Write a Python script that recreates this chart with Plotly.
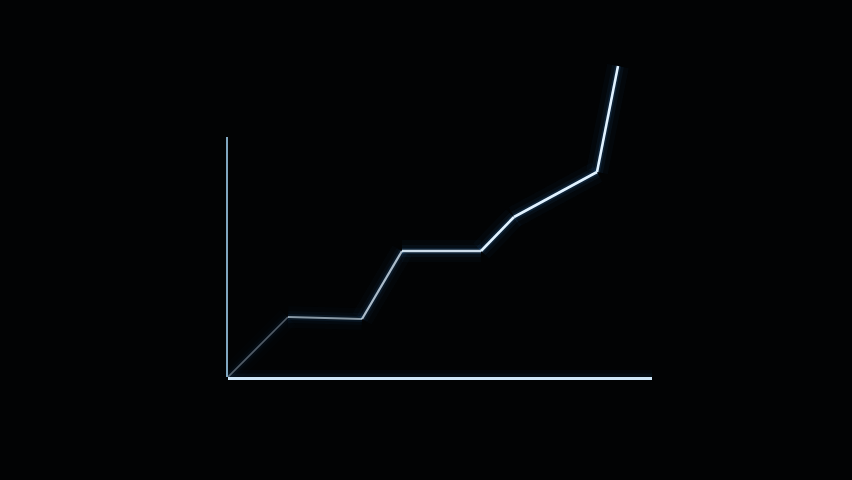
import plotly.graph_objects as go

# growth line (x and y in plot units)
x_vals = [0, 60, 134, 174, 253, 286, 369, 390]
y_vals = [0, 60, 58, 126, 126, 160, 205, 311]

# brightness of each segment, dim near the origin, bright at the end
seg_alpha = [0.35, 0.6, 0.75, 0.9, 1.0, 1.0, 1.0]

fig = go.Figure()

# invisible point so the short left axis (y2) gets drawn
fig.add_trace(go.Scatter(x=x_vals[:1], y=y_vals[:1], mode="markers", yaxis="y2",
                         marker=dict(opacity=0), hoverinfo="skip",
                         showlegend=False))

for i in range(len(x_vals) - 1):
    xs = x_vals[i:i + 2]
    ys = y_vals[i:i + 2]
    a = seg_alpha[i]
    # soft blue glow
    for w, op in [(22, 0.035), (12, 0.06), (6, 0.14)]:
        fig.add_trace(go.Scatter(
            x=xs, y=ys, mode="lines",
            line=dict(color="rgba(60,150,230,%.3f)" % (op * a), width=w),
            hoverinfo="skip", showlegend=False,
        ))
    fig.add_trace(go.Scatter(
        x=xs, y=ys, mode="lines",
        line=dict(color="rgba(225,242,255,%.3f)" % a, width=1.2 + 1.4 * a),
        hoverinfo="skip", showlegend=False,
    ))

# faint glow just above the bottom axis
axis_glow = [
    dict(type="line", xref="x domain", yref="y", x0=0, x1=1, y0=0, y1=0,
         line=dict(color="rgba(60,150,230,%.3f)" % op, width=w), layer="below")
    for w, op in [(14, 0.03), (7, 0.05)]
]

fig.update_layout(
    width=852, height=480,
    margin=dict(l=228, r=200, t=40, b=103),
    paper_bgcolor="#020304",
    plot_bgcolor="rgba(0,0,0,0)",
    shapes=axis_glow,
    xaxis=dict(range=[0, 424], showgrid=False, zeroline=False, showticklabels=False,
               ticks="", showline=True, linecolor="#cfe8fa", linewidth=3,
               fixedrange=True),
    yaxis=dict(range=[0, 337], domain=[0, 1], showgrid=False, zeroline=False,
               showticklabels=False, ticks="", showline=False, fixedrange=True),
    yaxis2=dict(range=[0, 240], domain=[0, 0.712], anchor="x", side="left",
                showgrid=False, zeroline=False, showticklabels=False, ticks="",
                showline=True, linecolor="rgba(150,195,225,0.85)", linewidth=2,
                fixedrange=True),
)

fig.write_html("out.html", config={"displayModeBar": False},
               post_script="document.body.style.margin='0';"
               "document.body.style.background='#020304';")
